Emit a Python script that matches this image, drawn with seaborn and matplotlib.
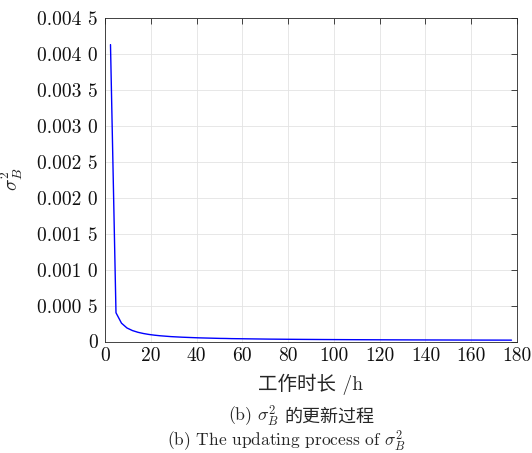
import numpy as np
import pandas as pd
import matplotlib
matplotlib.use("Agg")
import matplotlib.pyplot as plt
import seaborn as sns

# Sampling grid of the updates (hours) and the updated variance estimates
hours = np.arange(1, 75) * 2.4
sigma_b2 = np.array([
    41.3, 4.00, 2.55, 1.88, 1.52, 1.28, 1.11, 0.98, 0.88, 0.80,
    0.74, 0.68, 0.64, 0.60, 0.57, 0.54, 0.51, 0.49, 0.47, 0.45,
    0.43, 0.42, 0.40, 0.39, 0.38, 0.37, 0.36, 0.35, 0.34, 0.33,
    0.325, 0.318, 0.311, 0.305, 0.299, 0.293, 0.288, 0.283, 0.278, 0.273,
    0.269, 0.265, 0.261, 0.257, 0.253, 0.250, 0.246, 0.243, 0.240, 0.237,
    0.234, 0.231, 0.229, 0.226, 0.224, 0.221, 0.219, 0.217, 0.215, 0.213,
    0.211, 0.209, 0.207, 0.205, 0.203, 0.201, 0.200, 0.198, 0.196, 0.195,
    0.193, 0.192, 0.190, 0.189,
]) * 1e-4

x_ticks = [0, 20, 40, 60, 80, 100, 120, 140, 160, 180]
y_ticks = [0, 0.0005, 0.0010, 0.0015, 0.0020, 0.0025, 0.0030, 0.0035, 0.0040, 0.0045]
y_tick_labels = ["0", "0.000 5", "0.001 0", "0.001 5", "0.002 0",
                 "0.002 5", "0.003 0", "0.003 5", "0.004 0", "0.004 5"]

sns.set_style("white")
plt.rcParams["font.family"] = ["cmr10", "Noto Sans CJK SC"]
plt.rcParams["mathtext.fontset"] = "cm"
plt.rcParams["axes.unicode_minus"] = False
plt.rcParams["axes.formatter.use_mathtext"] = True

df = pd.DataFrame({"hours": hours, "sigma_b2": sigma_b2})

W, H = 532, 453
fig = plt.figure(figsize=(W / 100, H / 100), dpi=100)
ax = fig.add_axes([105 / W, 1 - 341.5 / H, 412 / W, 323.5 / H])

sns.lineplot(data=df, x="hours", y="sigma_b2", ax=ax, color=(0, 0, 1), linewidth=1.0)

ax.set_xlim(0, 180)
ax.set_ylim(0, 0.0045)
ax.set_xticks(x_ticks)
ax.set_xticklabels([str(t) for t in x_ticks])
ax.set_yticks(y_ticks)
ax.set_yticklabels(y_tick_labels)

ax.grid(True, color="#e3e3e3", linewidth=0.6)
ax.set_axisbelow(True)
for side in ["top", "right", "bottom", "left"]:
    ax.spines[side].set_visible(True)
    ax.spines[side].set_color("#262626")
    ax.spines[side].set_linewidth(0.6)
ax.tick_params(axis="both", direction="in", length=4, width=0.6, color="#262626",
               labelsize=14, labelcolor="#111111", top=True, right=True, pad=4)
ax.tick_params(axis="y", pad=5)

ax.set_xlabel("工作时长 /h", fontsize=14, labelpad=6)
ax.set_ylabel(r"$\sigma_B^2$", fontsize=14, labelpad=9)

# Two-line caption; the Chinese part is set as separate text so it gets a CJK font
y1 = 1 - 422 / H
y2 = 1 - 445.5 / H
t1 = fig.text(228 / W, y1, r"(b) $\sigma_B^2$", ha="left", va="baseline", fontsize=12.8)
fig.canvas.draw()
bb = t1.get_window_extent(renderer=fig.canvas.get_renderer())
fig.text((bb.x1 + 5) / W, y1, "的更新过程", ha="left", va="baseline", fontsize=13,
         family="Noto Sans CJK SC")
fig.text(167 / W, y2, r"(b) The updating process of $\sigma_B^2$", ha="left", va="baseline", fontsize=12.5)

fig.savefig("out.png", dpi=100)
